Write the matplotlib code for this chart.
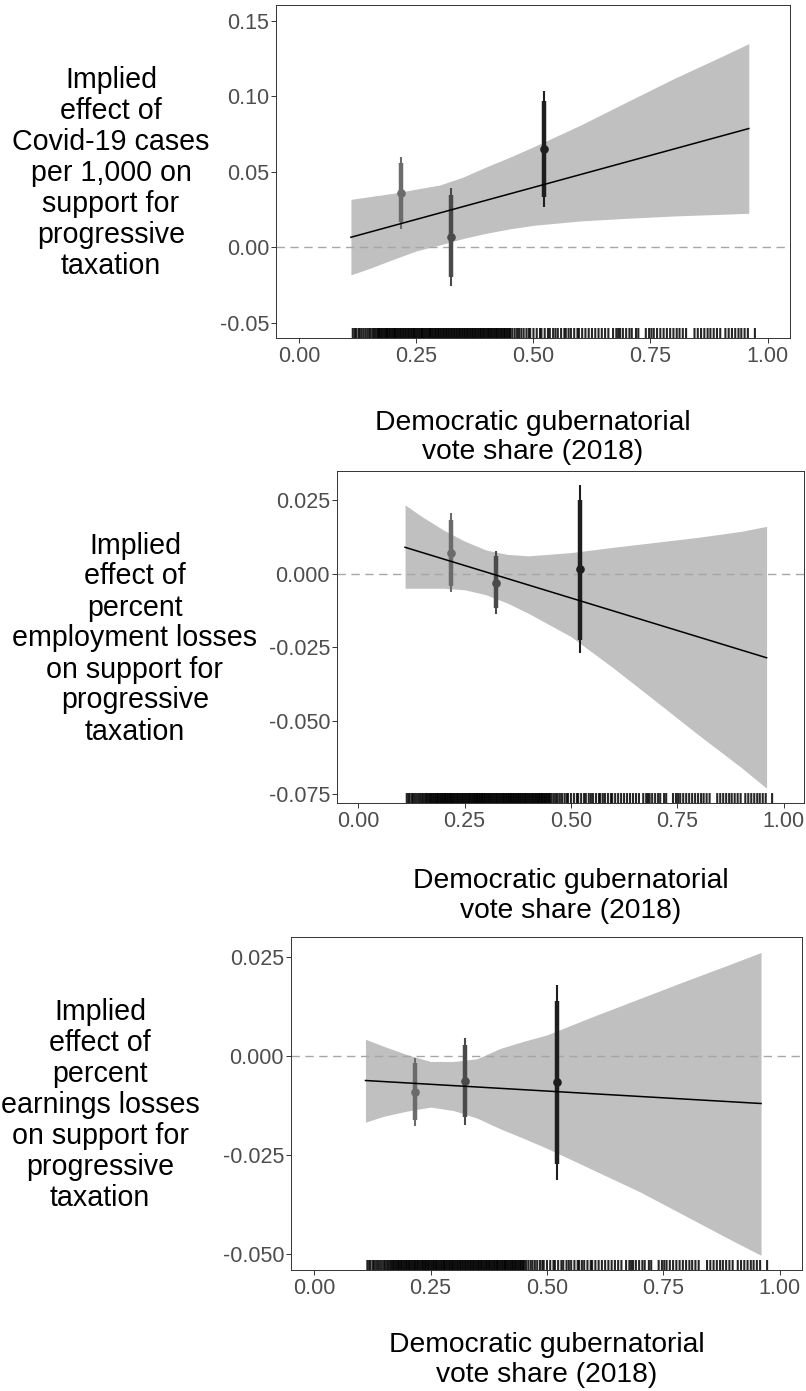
import matplotlib
matplotlib.use("Agg")
import matplotlib.pyplot as plt
import matplotlib.transforms as mtransforms

plt.rcParams['font.family'] = ['Liberation Sans', 'DejaVu Sans']

# ---------------- data ----------------
rug_x = [0.114, 0.118, 0.121, 0.126, 0.129, 0.133, 0.137, 0.141, 0.145, 0.149,
         0.152, 0.156, 0.159, 0.162, 0.165, 0.168, 0.170, 0.172, 0.175, 0.177,
         0.180, 0.182, 0.185, 0.187, 0.189, 0.192, 0.194, 0.197, 0.199, 0.202,
         0.204, 0.206, 0.209, 0.211, 0.214, 0.216, 0.218, 0.221, 0.223, 0.226,
         0.228, 0.231, 0.233, 0.235, 0.238, 0.240, 0.243, 0.245, 0.247, 0.250,
         0.252, 0.255, 0.257, 0.260, 0.262, 0.264, 0.267, 0.269, 0.272, 0.274,
         0.277, 0.279, 0.281, 0.284, 0.286, 0.289, 0.291, 0.293, 0.296, 0.298,
         0.301, 0.303, 0.306, 0.308, 0.310, 0.313, 0.315, 0.318, 0.320, 0.323,
         0.325, 0.327, 0.330, 0.332, 0.335, 0.337, 0.340, 0.342, 0.344, 0.347,
         0.349, 0.352, 0.354, 0.357, 0.359, 0.361, 0.364, 0.366, 0.369, 0.371,
         0.374, 0.376, 0.378, 0.381, 0.383, 0.386, 0.388, 0.391, 0.393, 0.395,
         0.398, 0.400, 0.403, 0.405, 0.408, 0.410, 0.412, 0.415, 0.417, 0.420,
         0.422, 0.425, 0.427, 0.430, 0.432, 0.434, 0.437, 0.439, 0.442, 0.444,
         0.447, 0.449, 0.451, 0.455, 0.460, 0.465, 0.469, 0.474, 0.479, 0.485,
         0.490, 0.493, 0.500, 0.507, 0.514, 0.517, 0.524, 0.531, 0.535, 0.542,
         0.547, 0.552, 0.559, 0.566, 0.569, 0.575, 0.580, 0.587, 0.594, 0.597,
         0.604, 0.611, 0.618, 0.625, 0.632, 0.639, 0.646, 0.653, 0.660, 0.670,
         0.677, 0.681, 0.685, 0.691, 0.698, 0.705, 0.710, 0.719, 0.724, 0.740,
         0.747, 0.752, 0.757, 0.764, 0.771, 0.778, 0.785, 0.792, 0.799, 0.806,
         0.812, 0.819, 0.826, 0.844, 0.851, 0.858, 0.865, 0.872, 0.878, 0.885,
         0.892, 0.899, 0.910, 0.917, 0.924, 0.931, 0.938, 0.944, 0.951, 0.958,
         0.973]

bin_x = [0.217, 0.324, 0.522]
bin_colors = ['#6b6b6b', '#4a4a4a', '#1e1e1e']

# Panel 1: Covid-19 cases
p1_band_x = [0.11, 0.15, 0.2, 0.25, 0.3, 0.35, 0.4, 0.45, 0.5, 0.6, 0.7, 0.8, 0.9, 0.96]
p1_band_hi = [0.0317, 0.0335, 0.0357, 0.0385, 0.0412, 0.0465, 0.0533, 0.0597, 0.0665, 0.0808, 0.0963, 0.1117, 0.1260, 0.1348]
p1_band_lo = [-0.0183, -0.0140, -0.0081, -0.0024, 0.0015, 0.0058, 0.0093, 0.0122, 0.0145, 0.0174, 0.0192, 0.0207, 0.0218, 0.0225]
p1_line_x = [0.11, 0.96]
p1_line_y = [0.0066, 0.0786]
p1_est = [0.0361, 0.0070, 0.0652]
p1_thick_lo = [0.0165, -0.0198, 0.0330]
p1_thick_hi = [0.0557, 0.0346, 0.0969]
p1_thin_lo = [0.0121, -0.0256, 0.0268]
p1_thin_hi = [0.0599, 0.0394, 0.1035]

# Panel 2: employment losses
p2_band_x = [0.11, 0.15, 0.2, 0.25, 0.3, 0.35, 0.4, 0.5, 0.6, 0.7, 0.8, 0.9, 0.96]
p2_band_hi = [0.0233, 0.0193, 0.0148, 0.0110, 0.0080, 0.0065, 0.0060, 0.0071, 0.0089, 0.0106, 0.0123, 0.0143, 0.0160]
p2_band_lo = [-0.0050, -0.0050, -0.0050, -0.0055, -0.0072, -0.0100, -0.0135, -0.0214, -0.0321, -0.0434, -0.0548, -0.0658, -0.0729]
p2_line_x = [0.11, 0.96]
p2_line_y = [0.0089, -0.0286]
p2_est = [0.0071, -0.0031, 0.0015]
p2_thick_lo = [-0.0044, -0.0118, -0.0225]
p2_thick_hi = [0.0182, 0.0058, 0.0250]
p2_thin_lo = [-0.0064, -0.0137, -0.0270]
p2_thin_hi = [0.0205, 0.0075, 0.0301]

# Panel 3: earnings losses
p3_band_x = [0.11, 0.15, 0.2, 0.25, 0.3, 0.35, 0.4, 0.45, 0.5, 0.6, 0.7, 0.8, 0.9, 0.96]
p3_band_hi = [0.0042, 0.0024, 0.0003, -0.0014, -0.0014, -0.0007, 0.0019, 0.0037, 0.0053, 0.0100, 0.0145, 0.0190, 0.0234, 0.0261]
p3_band_lo = [-0.0167, -0.0152, -0.0139, -0.0129, -0.0138, -0.0157, -0.0184, -0.0208, -0.0233, -0.0288, -0.0343, -0.0405, -0.0467, -0.0503]
p3_line_x = [0.11, 0.96]
p3_line_y = [-0.0062, -0.0120]
p3_est = [-0.0090, -0.0063, -0.0067]
p3_thick_lo = [-0.0162, -0.0155, -0.0273]
p3_thick_hi = [-0.0019, 0.0028, 0.0139]
p3_thin_lo = [-0.0177, -0.0173, -0.0313]
p3_thin_hi = [-0.0004, 0.0045, 0.0178]

x_ticks = [0.0, 0.25, 0.5, 0.75, 1.0]
x_tick_labels = ["0.00", "0.25", "0.50", "0.75", "1.00"]
p1_y_ticks = [-0.05, 0.0, 0.05, 0.10, 0.15]
p1_y_labels = ["-0.05", "0.00", "0.05", "0.10", "0.15"]
p2_y_ticks = [-0.075, -0.05, -0.025, 0.0, 0.025]
p2_y_labels = ["-0.075", "-0.050", "-0.025", "0.000", "0.025"]
p3_y_ticks = [-0.05, -0.025, 0.0, 0.025]
p3_y_labels = ["-0.050", "-0.025", "0.000", "0.025"]

p1_ylabel = ["Implied", "effect of", "Covid-19 cases", "per 1,000 on", "support for", "progressive", "taxation"]
p2_ylabel = ["Implied", "effect of", "percent", "employment losses", "on support for", "progressive", "taxation"]
p3_ylabel = ["Implied", "effect of", "percent", "earnings losses", "on support for", "progressive", "taxation"]
xlabel_lines = ["Democratic gubernatorial", "vote share (2018)"]

# ---------------- layout ----------------
W, H = 806, 1391
fig = plt.figure(figsize=(W / 100, H / 100), dpi=100)

def rect(l, r, t, b):
    return [l / W, 1 - b / H, (r - l) / W, (b - t) / H]

panels = [
    dict(box=(276, 790, 5, 338), ylim=(-0.0601, 0.1604), yt=p1_y_ticks, ytl=p1_y_labels,
         bx=p1_band_x, bhi=p1_band_hi, blo=p1_band_lo, lx=p1_line_x, ly=p1_line_y,
         est=p1_est, tlo=p1_thick_lo, thi=p1_thick_hi, nlo=p1_thin_lo, nhi=p1_thin_hi,
         ylab=p1_ylabel, ylab_cx=111, xlab_off=92),
    dict(box=(337, 804, 471, 803), ylim=(-0.0779, 0.0348), yt=p2_y_ticks, ytl=p2_y_labels,
         bx=p2_band_x, bhi=p2_band_hi, blo=p2_band_lo, lx=p2_line_x, ly=p2_line_y,
         est=p2_est, tlo=p2_thick_lo, thi=p2_thick_hi, nlo=p2_thin_lo, nhi=p2_thin_hi,
         ylab=p2_ylabel, ylab_cx=135, xlab_off=85),
    dict(box=(291, 802, 937, 1270), ylim=(-0.0540, 0.0300), yt=p3_y_ticks, ytl=p3_y_labels,
         bx=p3_band_x, bhi=p3_band_hi, blo=p3_band_lo, lx=p3_line_x, ly=p3_line_y,
         est=p3_est, tlo=p3_thick_lo, thi=p3_thick_hi, nlo=p3_thin_lo, nhi=p3_thin_hi,
         ylab=p3_ylabel, ylab_cx=100, xlab_off=82),
]

for p in panels:
    l, r, t, b = p['box']
    ax = fig.add_axes(rect(l, r, t, b))
    ax.set_xlim(-0.05, 1.048)
    ax.set_ylim(*p['ylim'])

    ax.fill_between(p['bx'], p['blo'], p['bhi'], color='#c0c0c0', lw=0, zorder=1)
    ax.axhline(0, color='#a6a6a6', lw=1.0, linestyle=(0, (6, 4)), zorder=2)

    for i in range(len(bin_x)):
        c = bin_colors[i]
        ax.plot([bin_x[i], bin_x[i]], [p['nlo'][i], p['nhi'][i]], color=c, lw=1.5,
                solid_capstyle='butt', zorder=3)
        ax.plot([bin_x[i], bin_x[i]], [p['tlo'][i], p['thi'][i]], color=c, lw=3.2,
                solid_capstyle='butt', zorder=3)
        ax.plot([bin_x[i]], [p['est'][i]], 'o', color=c, ms=6.2, mew=0, zorder=4)

    ax.plot(p['lx'], p['ly'], color='black', lw=1.1, zorder=5)

    trans = mtransforms.blended_transform_factory(ax.transData, ax.transAxes)
    rug = ax.vlines(rug_x, 0, 0.03, transform=trans, color='black', lw=1.5, alpha=0.85, zorder=6)
    rug.set_snap(False)

    ax.set_xticks(x_ticks)
    ax.set_xticklabels(x_tick_labels)
    ax.set_yticks(p['yt'])
    ax.set_yticklabels(p['ytl'])
    ax.tick_params(axis='both', direction='out', length=3.5, width=0.7, color='#333333',
                   labelcolor='#4d4d4d', labelsize=15.5)
    ax.tick_params(axis='x', pad=2.5)
    ax.tick_params(axis='y', pad=1.5)
    for s in ax.spines.values():
        s.set_color('#333333')
        s.set_linewidth(0.7)

    # y-axis title, one text per line
    cy = (t + b) / 2
    for i, line in enumerate(p['ylab']):
        base = cy - 83.5 + 31 * i
        fig.text(p['ylab_cx'] / W, 1 - base / H, line, ha='center', va='baseline',
                 fontsize=20.6, color='black')

    # x-axis title
    cx = (l + r) / 2
    for i, line in enumerate(xlabel_lines):
        base = b + p['xlab_off'] + 29.5 * i
        fig.text(cx / W, 1 - base / H, line, ha='center', va='baseline',
                 fontsize=20.3, color='black')

fig.savefig('out.png', dpi=100, facecolor='white')
